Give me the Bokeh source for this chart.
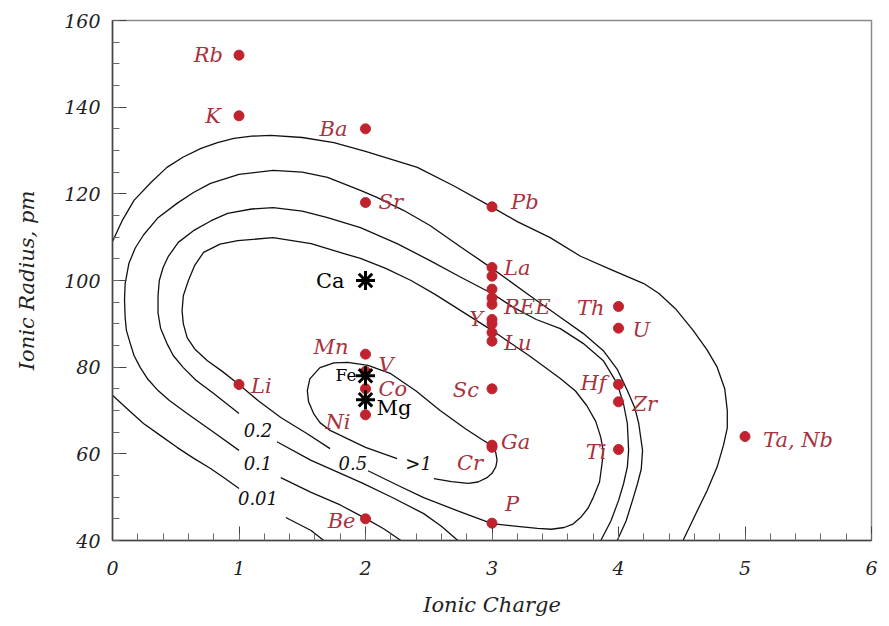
from bokeh.plotting import figure
from bokeh.models import ColumnDataSource, SingleIntervalTicker
from bokeh.embed import file_html
from bokeh.resources import INLINE
from bokeh.core.properties import value

# ---------------------------------------------------------------------------
# Elements: ionic charge and ionic radius (pm)
names = ["Rb", "K", "Li", "Ba", "Sr", "Mn", "V", "Co", "Ni", "Be",
         "Pb", "La", "REE", "Y", "Lu", "Sc", "Ga", "Cr", "P",
         "Th", "U", "Hf", "Zr", "Ti", "Ta, Nb"]
charge = [1, 1, 1, 2, 2, 2, 2, 2, 2, 2,
          3, 3, 3, 3, 3, 3, 3, 3, 3,
          4, 4, 4, 4, 4, 5]
radius = [152, 138, 76, 135, 118, 83, 79, 75, 69, 45,
          117, 103, 94.5, 90, 86, 75, 62, 61.5, 44,
          94, 89, 76, 72, 61, 64]

# remaining rare-earth ions (charge 3), drawn without names
ree_charge = [3, 3, 3, 3, 3]
ree_radius = [101, 98, 96, 91, 88]

# major cations of the host mineral
host_names = ["Ca", "Fe", "Mg"]
host_charge = [2, 2, 2]
host_radius = [100, 78, 72.5]

# ---------------------------------------------------------------------------
# Partition-coefficient contours (charge, radius), one list per drawn segment
# 0.01
d001_a_x = [0.0, 0.08, 0.17, 0.30, 0.43, 0.56, 0.70, 0.83, 0.96, 1.10, 1.25, 1.50,
            1.75, 2.0, 2.41, 2.70, 2.99, 3.20, 3.46, 3.70, 3.95, 4.20, 4.32, 4.45,
            4.59, 4.70, 4.78, 4.84, 4.86, 4.86, 4.83, 4.78, 4.70, 4.60, 4.51]
d001_a_y = [109.0, 114.0, 118.5, 122.5, 126.1, 128.5, 130.5, 131.8, 132.8, 133.3, 133.5, 133.0,
            131.8, 129.8, 126.1, 121.8, 117.1, 113.6, 109.9, 105.6, 102.4, 99.3, 97.0, 93.5,
            88.5, 84.0, 80.0, 75.0, 70.0, 66.0, 62.0, 57.0, 51.5, 45.5, 40.0]
d001_b_x = [0.0, 0.12, 0.245, 0.38, 0.51, 0.64, 0.775, 0.89, 1.0]
d001_b_y = [73.5, 70.3, 67.0, 64.2, 61.5, 59.0, 56.6, 54.3, 52.0]
d001_c_x = [1.37, 1.47, 1.57, 1.67]
d001_c_y = [45.3, 43.8, 42.3, 40.0]

# 0.1
d01_a_x = [1.0, 0.80, 0.59, 0.45, 0.36, 0.28, 0.22, 0.17, 0.14, 0.11, 0.10, 0.095, 0.10,
           0.13, 0.18, 0.245, 0.36, 0.51, 0.64, 0.775, 1.0, 1.27, 1.50, 1.70, 1.96, 2.09,
           2.30, 2.51, 2.75, 3.0, 3.30, 3.54, 3.72, 3.88, 3.99, 4.07, 4.13, 4.16, 4.19,
           4.18, 4.15, 4.11, 4.06, 3.99]
d01_a_y = [60.8, 65.0, 69.3, 72.3, 74.6, 77.2, 79.9, 82.7, 85.5, 88.5, 91.5, 95.5, 99.3,
           104.0, 107.5, 110.5, 114.5, 117.8, 120.3, 122.4, 124.5, 125.4, 125.0, 123.8, 120.8, 119.2,
           116.2, 112.7, 107.8, 102.8, 96.5, 91.5, 87.8, 83.8, 79.5, 74.6, 70.5, 67.0, 60.8,
           56.5, 53.1, 49.2, 44.5, 40.0]
d01_b_x = [1.33, 1.57, 1.80, 2.0, 2.15, 2.28]
d01_b_y = [54.5, 51.1, 48.2, 45.1, 42.6, 40.0]

# 0.2
d02_a_x = [1.0, 0.80, 0.66, 0.56, 0.48, 0.43, 0.38, 0.36, 0.36, 0.37, 0.40, 0.44, 0.52,
           0.64, 0.78, 0.91, 1.10, 1.27, 1.50, 1.70, 1.96, 2.25, 2.51, 2.75, 3.0, 3.17,
           3.35, 3.54, 3.72, 3.88, 3.99, 4.04, 4.07, 4.08, 4.07, 4.04, 4.0, 3.94, 3.86]
d02_a_y = [69.3, 73.9, 77.0, 79.9, 82.7, 85.5, 89.0, 92.5, 96.5, 100.0, 103.0, 105.5, 108.8,
           111.5, 113.8, 115.5, 116.5, 116.8, 116.0, 114.5, 112.2, 108.5, 104.6, 100.8, 97.0, 93.8,
           91.0, 88.9, 85.5, 81.5, 76.2, 71.5, 67.0, 60.8, 57.0, 53.1, 49.2, 44.5, 40.0]
d02_b_x = [1.30, 1.57, 1.78, 1.98, 2.22, 2.46, 2.60, 2.73]
d02_b_y = [62.8, 58.5, 55.8, 53.2, 49.8, 46.2, 43.3, 40.0]

# 0.5
d05_x = [1.72, 1.53, 1.33, 1.15, 1.0, 0.86, 0.75, 0.65, 0.59, 0.56, 0.55, 0.56, 0.60,
         0.65, 0.72, 0.85, 0.99, 1.27, 1.57, 1.83, 1.96, 2.16, 2.36, 2.55, 2.75, 3.0,
         3.30, 3.54, 3.66, 3.75, 3.82, 3.86, 3.88, 3.87, 3.85, 3.80, 3.76, 3.70, 3.64,
         3.57, 3.47, 3.36, 3.18, 3.0, 2.75, 2.46, 2.25, 2.02]
d05_y = [61.2, 64.8, 68.4, 72.3, 76.0, 79.2, 81.5, 84.2, 86.8, 90.0, 93.0, 96.5, 100.0,
         103.5, 106.5, 108.4, 109.2, 109.9, 108.5, 106.2, 105.1, 102.8, 100.0, 96.8, 93.1, 88.5,
         82.5, 77.4, 74.5, 71.1, 67.5, 63.8, 60.5, 57.8, 53.5, 49.9, 47.5, 45.3, 43.8,
         43.0, 42.6, 42.8, 43.3, 43.9, 46.6, 49.9, 52.8, 56.1]

# >1
d1_x = [2.25, 2.00, 1.72, 1.64, 1.59, 1.55, 1.54, 1.56, 1.64, 1.75, 1.86, 2.02, 2.20,
        2.40, 2.59, 2.79, 2.92, 3.0, 3.03, 3.04, 3.03, 3.0, 2.96, 2.89, 2.81, 2.68, 2.54]
d1_y = [58.9, 61.5, 65.4, 67.2, 69.3, 72.0, 74.6, 77.3, 79.9, 81.0, 81.1, 80.4, 78.5,
        74.5, 70.0, 65.8, 63.3, 61.9, 60.3, 58.5, 57.0, 55.5, 54.5, 53.5, 53.2, 53.6, 54.3]

contour_labels = ["0.2", "0.1", "0.01", "0.5", ">1"]
contour_label_x = [1.15, 1.15, 1.15, 1.90, 2.42]
contour_label_y = [65.4, 57.8, 49.9, 58.0, 57.8]

# ---------------------------------------------------------------------------
# Label placement relative to each point (screen px) and side
label_dx = [-16, -18, 12, -18, 13, -17, 13, 13, -15, -10,
            19, 12, 12, -9, 12, -13, 9, -9, 13,
            -14, 14, -12, 14, -12, 18]
label_dy = [0, 0, 1, 0, -1, -7, -7, 0, 7, 2,
            -5, 0, 3, -5, 2, 1, -3, 16, -19,
            1, 2, -2, 2, 2, 3]
host_dx = [-21, -9, 11]
host_dy = [0, -1, 8]

SERIF = value("DejaVu Serif")
DOT = "#c0222e"
NAME = "#a8323e"

p = figure(width=889, height=626, x_range=(0, 6), y_range=(40, 160),
           output_backend="svg", toolbar_location=None,
           min_border_left=112, min_border_right=18, min_border_top=20,
           min_border_bottom=86, background_fill_color="white",
           border_fill_color="white")
p.xgrid.visible = False
p.ygrid.visible = False
p.outline_line_color = "#8a8a8a"
p.outline_line_width = 1.5

p.xaxis.ticker = SingleIntervalTicker(interval=1, num_minor_ticks=5)
p.yaxis.ticker = SingleIntervalTicker(interval=20, num_minor_ticks=4)
for ax in (p.xaxis, p.yaxis):
    ax.axis_line_color = "#444444"
    ax.axis_line_width = 1.5
    ax.major_tick_line_color = "#444444"
    ax.minor_tick_line_color = "#666666"
    ax.major_tick_in = 14
    ax.major_tick_out = 0
    ax.minor_tick_in = 7
    ax.minor_tick_out = 0
    ax.major_label_text_font = "DejaVu Serif"
    ax.major_label_text_font_style = "italic"
    ax.major_label_text_font_size = "19px"
    ax.major_label_text_color = "#222222"
    ax.axis_label_text_font = "DejaVu Serif"
    ax.axis_label_text_font_style = "italic"
    ax.axis_label_text_font_size = "21px"
    ax.axis_label_text_color = "#222222"
p.xaxis.axis_label = "Ionic Charge"
p.yaxis.axis_label = "Ionic Radius, pm"
p.xaxis.major_label_standoff = 20
p.xaxis.axis_label_standoff = 15
p.yaxis.major_label_standoff = 12
p.yaxis.axis_label_standoff = 22

# contour lines
segments = [(d001_a_x, d001_a_y), (d001_b_x, d001_b_y), (d001_c_x, d001_c_y),
            (d01_a_x, d01_a_y), (d01_b_x, d01_b_y),
            (d02_a_x, d02_a_y), (d02_b_x, d02_b_y),
            (d05_x, d05_y), (d1_x, d1_y)]
for sx, sy in segments:
    p.line(sx, sy, line_color="#111111", line_width=1.3, line_join="round")

p.text(x=contour_label_x, y=contour_label_y, text=contour_labels,
       text_font=SERIF, text_font_style="italic", text_font_size="18px",
       text_color="#111111", text_align="center", text_baseline="middle")

# element points
p.scatter(ree_charge, ree_radius, size=10, fill_color=DOT, line_color=DOT)
src = ColumnDataSource(dict(x=charge, y=radius, name=names,
                            dx=label_dx, dy=label_dy,
                            align=["left" if d > 0 else "right" for d in label_dx]))
p.scatter("x", "y", source=src, size=10, fill_color=DOT, line_color=DOT)
p.text(x="x", y="y", text="name", x_offset="dx", y_offset="dy",
       text_align="align", source=src, text_font=SERIF,
       text_font_style="italic", text_font_size="21px",
       text_color=NAME, text_baseline="middle")

# host cations
hsrc = ColumnDataSource(dict(x=host_charge, y=host_radius, name=host_names,
                             dx=host_dx, dy=host_dy,
                             align=["left" if d > 0 else "right" for d in host_dx],
                             fs=["21px", "17px", "21px"]))
p.scatter("x", "y", source=hsrc, marker="asterisk", size=19,
          line_color="black", line_width=3)
p.text(x="x", y="y", text="name", x_offset="dx", y_offset="dy",
       text_align="align", text_font_size="fs", source=hsrc,
       text_font=SERIF, text_color="black", text_baseline="middle")

open("out.html", "w").write(file_html(p, INLINE))
